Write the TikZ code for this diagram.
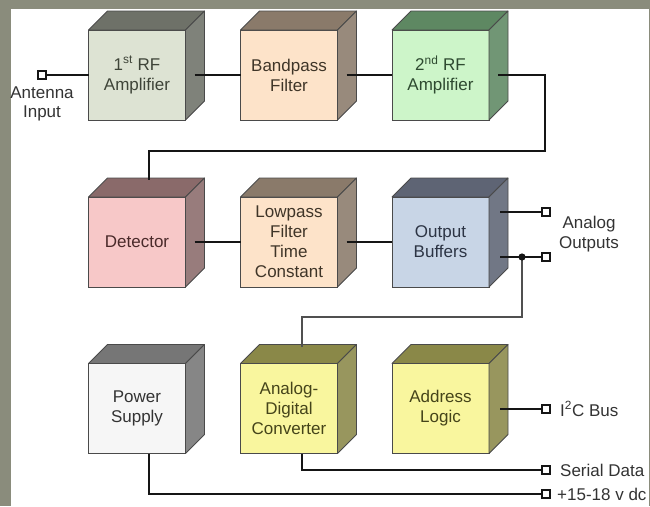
\documentclass[tikz,border=0pt]{standalone}
\usepackage{fontspec}
\setmainfont{Liberation Sans}
\usetikzlibrary{calc}
\definecolor{bgc}{HTML}{8A8C7C}
\definecolor{edge}{HTML}{4A4A4A}
\definecolor{wirec}{HTML}{151515}
\definecolor{thinc}{HTML}{505050}
\definecolor{labelc}{HTML}{333333}
\definecolor{fA}{HTML}{DDE3D3}\definecolor{dA}{HTML}{6E7168}\definecolor{tA}{HTML}{3E4438}
\definecolor{fB}{HTML}{FDE3C9}\definecolor{dB}{HTML}{8A7A6A}\definecolor{tB}{HTML}{3F3528}
\definecolor{fC}{HTML}{CDF5C9}\definecolor{dC}{HTML}{5E8862}\definecolor{tC}{HTML}{2E4A30}
\definecolor{fD}{HTML}{F7C8C8}\definecolor{dD}{HTML}{8A6A6A}\definecolor{tD}{HTML}{4A2A2A}
\definecolor{fE}{HTML}{C8D5E6}\definecolor{dE}{HTML}{5E6474}\definecolor{tE}{HTML}{2C3444}
\definecolor{fF}{HTML}{F6F6F6}\definecolor{dF}{HTML}{767676}\definecolor{tF}{HTML}{333333}
\definecolor{fG}{HTML}{F9F69E}\definecolor{dG}{HTML}{8A8848}\definecolor{tG}{HTML}{45441A}
\tikzset{
  cubefront/.style={draw=edge, line width=0.8pt, minimum width=97pt, minimum height=90pt,
    inner sep=0pt, outer sep=0pt, align=center, font=\fontsize{17}{20}\selectfont},
  wire/.style={line width=1.8pt, draw=wirec},
  thinwire/.style={line width=1.1pt, draw=thinc},
  term/.style={draw=wirec, line width=1.5pt, fill=white, minimum size=8pt, inner sep=0pt, outer sep=0pt},
  lbl/.style={font=\fontsize{17}{19.5}\selectfont, text=labelc, inner sep=0pt, align=center},
}
\newcommand\drawcube[7]{%
  \node[cubefront, fill=#4, text=#6] (#1) at (#2,#3) {#7};
  \filldraw[draw=edge, line width=0.8pt, fill=#5, line join=round]
    (#1.north west) -- ++(19,-19) -- ($(#1.north east)+(19,-19)$) -- (#1.north east) -- cycle;
  \filldraw[draw=edge, line width=0.8pt, fill=#5!88!white, line join=round]
    (#1.north east) -- ++(19,-19) -- ($(#1.south east)+(19,-19)$) -- (#1.south east) -- cycle;
  \coordinate (#1-s) at ($(#1.east)+(9,0)$);
}
\begin{document}
\begin{tikzpicture}[x=1pt,y=-1pt]
\useasboundingbox (0,0) rectangle (650,506);
\fill[bgc] (0,0) rectangle (650,506);
\fill[white] (11,9) rectangle (649,506);

% row 1
\drawcube{rf1}{137}{75}{fA}{dA}{tA}{1\textsuperscript{st} RF\\Amplifier}
\drawcube{bpf}{289}{75}{fB}{dB}{tB}{Bandpass\\Filter}
\drawcube{rf2}{440.5}{75}{fC}{dC}{tC}{2\textsuperscript{nd} RF\\Amplifier}
% row 2
\drawcube{det}{137}{242}{fD}{dD}{tD}{Detector}
\drawcube{lpf}{289}{242}{fB}{dB}{tB}{Lowpass\\Filter\\Time\\Constant}
\drawcube{ob}{440.5}{242}{fE}{dE}{tE}{Output\\Buffers}
% row 3
\drawcube{ps}{137}{408.5}{fF}{dF}{tF}{Power\\Supply}
\drawcube{adc}{289}{408.5}{fG}{dG}{tG}{Analog-\\Digital\\Converter}
\drawcube{al}{440.5}{408.5}{fG}{dG}{tG}{Address\\Logic}

% terminals
\node[term] (tant) at (42,75) {};
\node[term] (tout1) at (546,212) {};
\node[term] (tout2) at (546,257) {};
\node[term] (ti2c) at (546,409) {};
\node[term] (tser) at (546,470) {};
\node[term] (tpwr) at (546,494) {};

% labels
\node[lbl] (lant) at (42,104) {Antenna\\Input};
\node[lbl] (lout) at (589,234) {Analog\\Outputs};
\node[lbl, anchor=west] (li2c) at (560,409) {I\textsuperscript{2}C Bus};
\node[lbl, anchor=west] (lser) at (560,470) {Serial Data};
\node[lbl, anchor=west] (lpwr) at (557,494) {+15-18 v dc};

% helper coordinates
\coordinate (k1) at (545,151);
\coordinate (dettop) at (149,180);
\coordinate (obo1) at (500,212);
\coordinate (obo2) at (500,257);
\coordinate (dot) at (522,257);
\coordinate (k2) at (302,317);
\coordinate (adctop) at (302,347);
\coordinate (alo) at (500,409);
\coordinate (adcbot) at (302,454);
\coordinate (psbot) at (149,454);

% connectors
\draw[wire] (tant) -- (rf1.west);
\draw[wire] (rf1-s) -- (bpf.west);
\draw[wire] (bpf-s) -- (rf2.west);
\draw[wire, line join=miter] (rf2-s) -| (k1) -| (dettop);
\draw[wire] (det-s) -- (lpf.west);
\draw[wire] (lpf-s) -- (ob.west);
\draw[wire] (obo1) -- (tout1);
\draw[wire] (obo2) -- (tout2);
\draw[thinwire] (dot) |- (k2) -- (adctop);
\fill[wirec] (dot) circle (3.6);
\draw[wire] (alo) -- (ti2c);
\draw[wire] (adcbot) |- (tser);
\draw[wire] (psbot) |- (tpwr);
\end{tikzpicture}
\end{document}
